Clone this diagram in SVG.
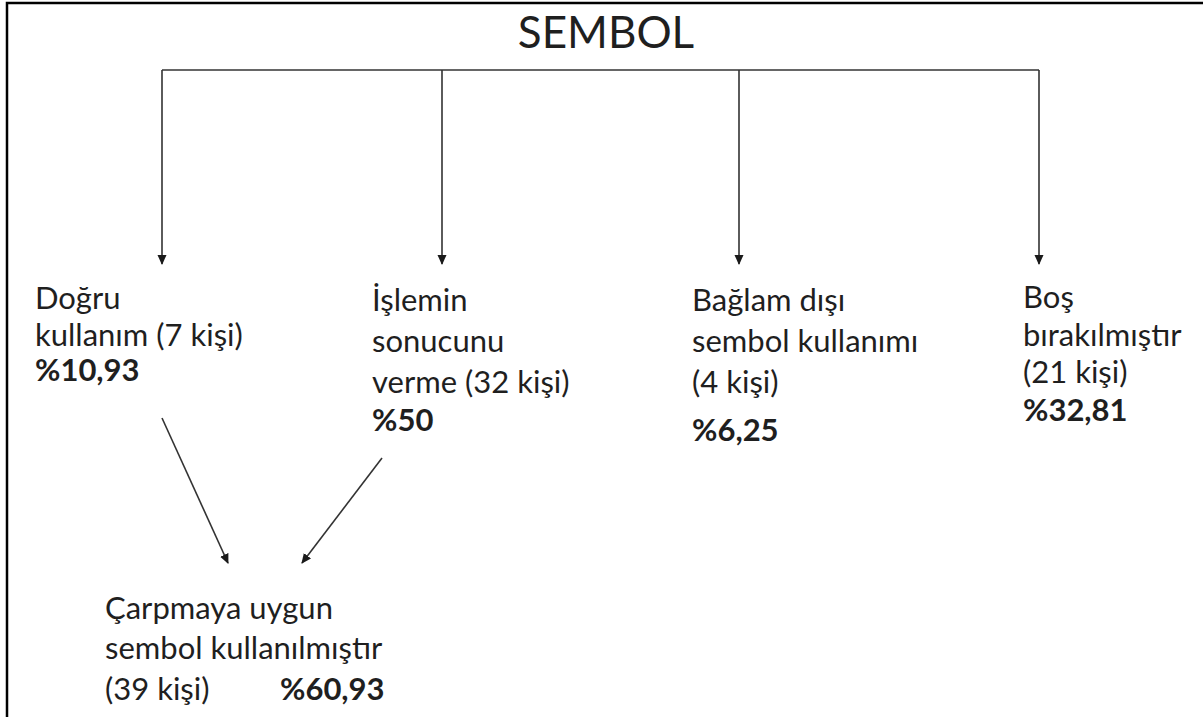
<svg xmlns="http://www.w3.org/2000/svg" width="1203" height="717" viewBox="0 0 1203 717">
<defs>
<marker id="ah" markerWidth="10" markerHeight="10" refX="9" refY="4.5" orient="auto" markerUnits="userSpaceOnUse">
<path d="M0,0 L10,4.5 L0,9 Z" fill="#1a1a1a"/>
</marker>
<style>
.t{font-family:Lato,"Open Sans","Noto Sans",sans-serif;font-size:31px;fill:#1f1f1f}
.b{font-weight:bold}
.c{fill:none;stroke:#333;stroke-width:1.6}
</style>
</defs>
<rect width="1203" height="717" fill="#fff"/>
<g id="frame" fill="none" stroke="#000" stroke-width="2.5">
<path d="M7,717 V3 H1203"/>
</g>
<g id="title"><text class="t" x="606" y="48" text-anchor="middle" style="font-size:44px">SEMBOL</text></g>
<g id="connectors">
<path class="c" d="M162,70 H1039"/>
<path class="c" d="M162,70 V264" marker-end="url(#ah)"/>
<path class="c" d="M442,70 V264" marker-end="url(#ah)"/>
<path class="c" d="M739,70 V264" marker-end="url(#ah)"/>
<path class="c" d="M1039,70 V264" marker-end="url(#ah)"/>
<path class="c" d="M162,418 L228,563" marker-end="url(#ah)"/>
<path class="c" d="M382,458 L302,563" marker-end="url(#ah)"/>
</g>
<g id="node-dogru">
<text class="t" x="35" y="309">Doğru</text>
<text class="t" x="35" y="346">kullanım (7 kişi)</text>
<text class="t b" x="35" y="381">%10,93</text>
</g>
<g id="node-islemin">
<text class="t" x="372" y="311">İşlemin</text>
<text class="t" x="372" y="352">sonucunu</text>
<text class="t" x="372" y="393">verme (32 kişi)</text>
<text class="t b" x="372" y="431">%50</text>
</g>
<g id="node-baglam">
<text class="t" x="692" y="311">Bağlam dışı</text>
<text class="t" x="692" y="352">sembol kullanımı</text>
<text class="t" x="692" y="393">(4 kişi)</text>
<text class="t b" x="692" y="441">%6,25</text>
</g>
<g id="node-bos">
<text class="t" x="1023" y="308">Boş</text>
<text class="t" x="1023" y="346">bırakılmıştır</text>
<text class="t" x="1023" y="383">(21 kişi)</text>
<text class="t b" x="1023" y="421">%32,81</text>
</g>
<g id="node-carpmaya">
<text class="t" x="105" y="619">Çarpmaya uygun</text>
<text class="t" x="105" y="659">sembol kullanılmıştır</text>
<text class="t" x="105" y="700">(39 kişi)</text>
<text class="t b" x="280" y="700">%60,93</text>
</g>
</svg>
